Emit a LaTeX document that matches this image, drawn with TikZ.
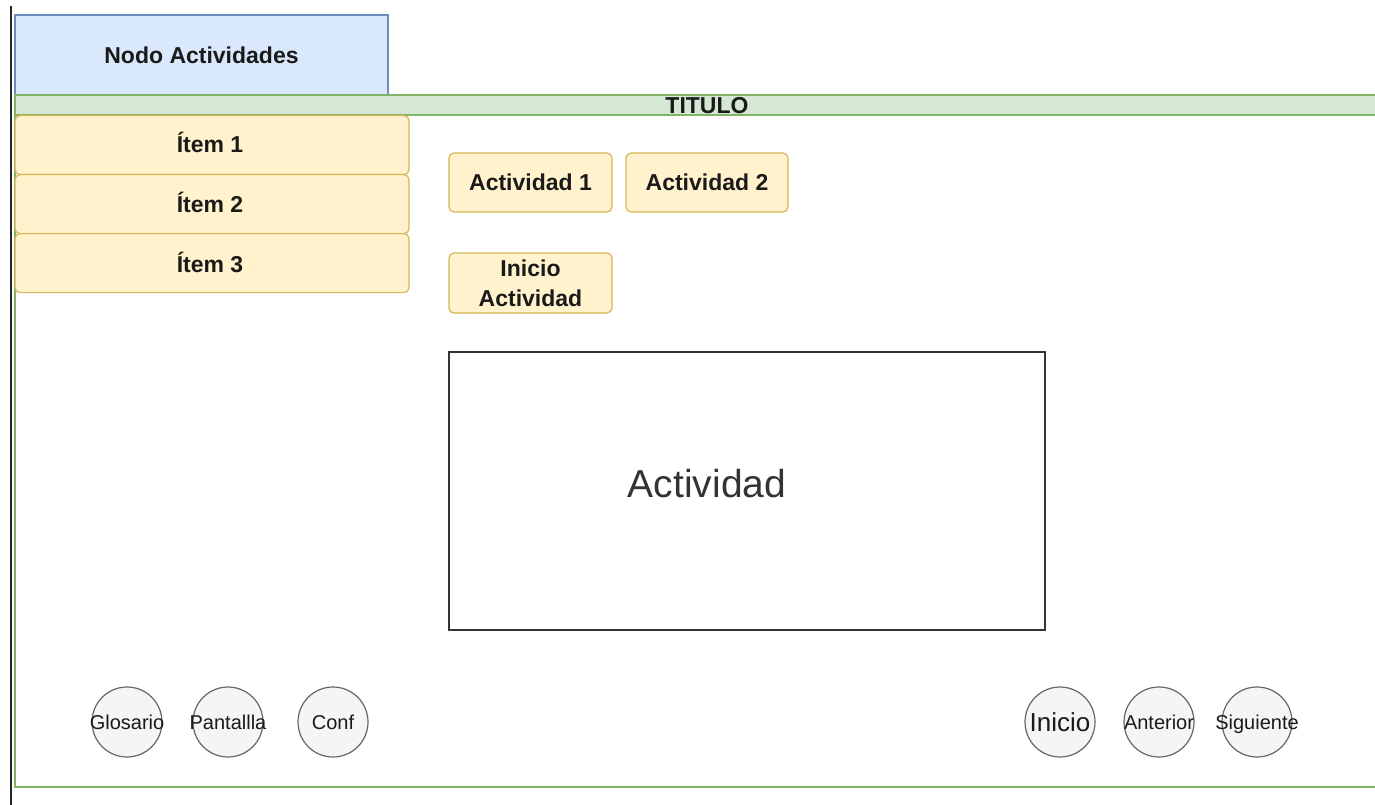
\documentclass[tikz,border=0pt]{standalone}
\usepackage{fontspec}
\setmainfont{Liberation Sans}
\definecolor{bluefill}{HTML}{DAE8FC}
\definecolor{bluedraw}{HTML}{6C8EBF}
\definecolor{yelfill}{HTML}{FFF2CC}
\definecolor{yeldraw}{HTML}{D6B656}
\definecolor{grnfill}{HTML}{D5E8D4}
\definecolor{grndraw}{HTML}{82B366}
\definecolor{btnfill}{HTML}{F5F5F5}
\definecolor{btndraw}{HTML}{666666}
\definecolor{txt}{HTML}{1A1A1A}
\tikzset{
  lbl/.style={text=txt, font=\fontsize{23}{27}\selectfont\bfseries, inner sep=0pt},
  menubox/.style={draw=yeldraw, fill=yelfill, line width=1.2pt, rounded corners=5pt, lbl},
  btn/.style={circle, draw=btndraw, fill=btnfill, line width=1.2pt, minimum size=70pt, inner sep=0pt},
  btntext/.style={text=txt, inner sep=0pt, anchor=base, yshift=-7pt,
    font=\fontsize{20}{22}\selectfont},
}
\begin{document}
\begin{tikzpicture}[x=1pt, y=-1pt]
  \useasboundingbox (0,0) rectangle (1375,805);
  % page frame
  \draw[grndraw, line width=2pt, fill=white] (15,95) rectangle (1400,787);
  % left rule
  \draw[line width=2.5pt, black!85] (11,6) -- (11,805);
  % header block
  \node[draw=bluedraw, fill=bluefill, line width=1.2pt, minimum width=373pt, minimum height=80pt,
        lbl] (nodo) at (201.5,55) {Nodo Actividades};
  % title bar
  \draw[grndraw, fill=grnfill, line width=1.5pt] (15,95) rectangle (1400,115);
  \node[lbl] (titulo) at (707,106) {TITULO};
  % side menu
  \node[menubox, minimum width=394pt, minimum height=59pt, anchor=north] (i1) at (212,115) {};
  \node[menubox, minimum width=394pt, minimum height=59pt, anchor=north] (i2) at (212,174) {};
  \node[menubox, minimum width=394pt, minimum height=59pt, anchor=north] (i3) at (212,233) {};
  \node[lbl] (t1) at (210,142) {Ítem 1};
  \node[lbl] (t2) at (210,202) {Ítem 2};
  \node[lbl] (t3) at (210,262) {Ítem 3};
  % activity selectors
  \node[menubox, minimum width=163pt, minimum height=59pt] (a1) at (530.5,182.5) {Actividad 1};
  \node[menubox, minimum width=162pt, minimum height=59pt] (a2) at (707,182.5) {Actividad 2};
  \node[menubox, minimum width=163pt, minimum height=60pt, align=center,
        font=\fontsize{23}{30}\selectfont\bfseries] (ini) at (530.5,283) {Inicio\\Actividad};
  % activity area
  \node[draw=black!80, fill=white, line width=1.8pt, minimum width=596pt, minimum height=278pt] (area) at (747,491) {};
  \node[text=black!80, font=\fontsize{39}{44}\selectfont] (areatxt) at (707,484) {Actividad};
  % navigation buttons (labels may overflow the circles)
  \node[btn] (glos) at (127,722) {};
  \node[btn] (pant) at (228,722) {};
  \node[btn] (conf) at (333,722) {};
  \node[btn] (inic) at (1060,722) {};
  \node[btn] (ant) at (1159,722) {};
  \node[btn] (sig) at (1257,722) {};
  \node[btntext] at (glos) {Glosario};
  \node[btntext] at (pant) {Pantallla};
  \node[btntext] at (conf) {Conf};
  \node[btntext, font=\fontsize{26}{28}\selectfont, yshift=-2pt] at (inic) {Inicio};
  \node[btntext] at (ant) {Anterior};
  \node[btntext] at (sig) {Siguiente};
\end{tikzpicture}
\end{document}
